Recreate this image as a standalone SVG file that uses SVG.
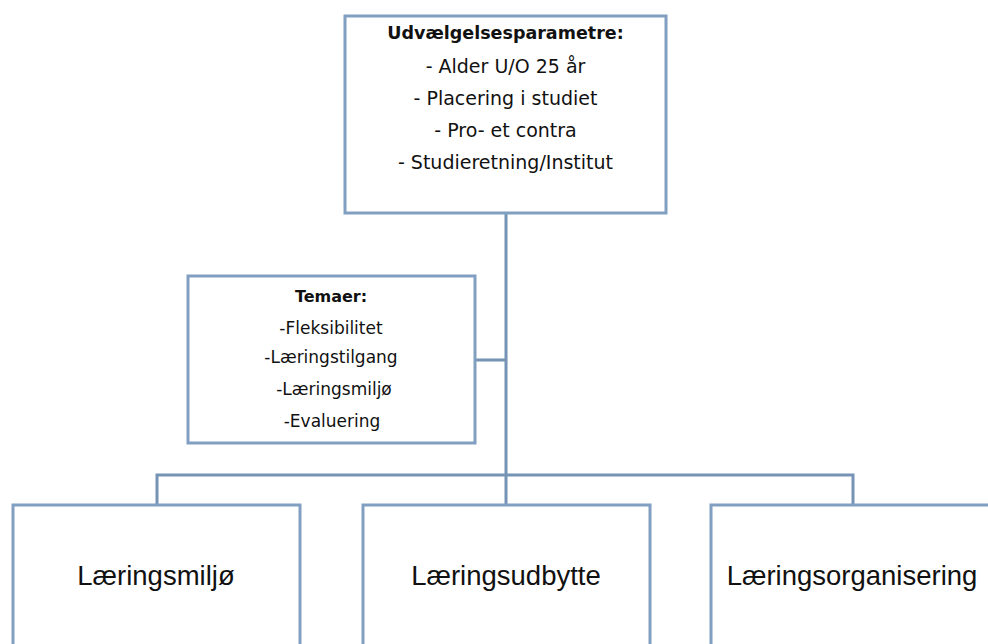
<svg xmlns="http://www.w3.org/2000/svg" width="988" height="644" viewBox="0 0 988 644">
<style>
.box{fill:#ffffff;stroke:#819fc0;stroke-width:3}
.conn{fill:none;stroke:#7493b5;stroke-width:3}
.sm{font-family:"DejaVu Sans",sans-serif;fill:#111;text-anchor:middle}
.big{font-family:"Liberation Sans",Arial,sans-serif;font-size:27.5px;fill:#111;text-anchor:middle}
</style>
<rect width="988" height="644" fill="#ffffff"/>
<g id="connectors">
<path class="conn" d="M506 213 V505"/>
<path class="conn" d="M475 360 H506"/>
<path class="conn" d="M157 505 V475 H853 V505"/>
</g>
<g id="udvaelgelse">
<rect class="box" x="345" y="16" width="321" height="197"/>
<text class="sm" x="505.5" y="39" font-size="17.5" font-weight="bold">Udvælgelsesparametre:</text>
<text class="sm" x="505.5" y="73" font-size="19">- Alder U/O 25 år</text>
<text class="sm" x="505.5" y="105" font-size="19">- Placering i studiet</text>
<text class="sm" x="505.5" y="137" font-size="19">- Pro- et contra</text>
<text class="sm" x="505.5" y="169" font-size="19">- Studieretning/Institut</text>
</g>
<g id="temaer">
<rect class="box" x="188" y="276" width="287" height="167"/>
<text class="sm" x="331" y="302" font-size="16" font-weight="bold">Temaer:</text>
<text class="sm" x="331" y="334" font-size="17">-Fleksibilitet</text>
<text class="sm" x="331" y="363" font-size="17">-Læringstilgang</text>
<text class="sm" x="334" y="395" font-size="17">-Læringsmiljø</text>
<text class="sm" x="332" y="427" font-size="17">-Evaluering</text>
</g>
<g id="laeringsmiljo">
<rect class="box" x="13" y="505" width="287" height="160"/>
<text class="big" x="156" y="585">Læringsmiljø</text>
</g>
<g id="laeringsudbytte">
<rect class="box" x="363" y="505" width="287" height="160"/>
<text class="big" x="506" y="585">Læringsudbytte</text>
</g>
<g id="laeringsorganisering">
<rect class="box" x="711" y="505" width="287" height="160"/>
<text class="big" x="852" y="585">Læringsorganisering</text>
</g>
</svg>
